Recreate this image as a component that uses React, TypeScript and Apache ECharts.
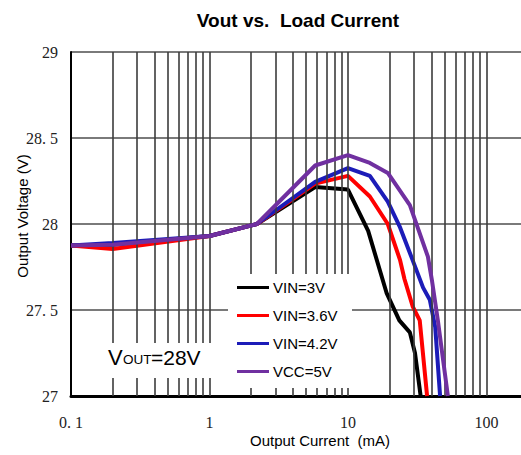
import React, { useEffect, useRef } from 'react';
import * as echarts from 'echarts';

const chartTitle = 'Vout vs.  Load Current';
const xAxisName = 'Output Current  (mA)';
const yAxisName = 'Output Voltage (V)';
const seriesNames = ['VIN=3V', 'VIN=3.6V', 'VIN=4.2V', 'VCC=5V'];
const seriesColors = ['#000000', '#ff0000', '#1c1cb8', '#7030a0'];

const xTickValues = [0.1, 1, 10, 100];
const xTickLabels = ['0. 1', '1', '10', '100'];
const yTickValues = [27, 27.5, 28, 28.5, 29];
const yTickLabels = ['27', '27. 5', '28', '28. 5', '29'];
const xGridLines = [
  0.2, 0.3, 0.4, 0.5, 0.6, 0.7, 0.8, 0.9, 1,
  2, 3, 4, 5, 6, 7, 8, 9, 10,
  20, 30, 40, 50, 60, 70, 80, 90, 100,
];

// [load current mA, output voltage V]
const vin3V: [number, number][] = [
  [0.1, 27.875], [0.2, 27.88], [1, 27.93], [2.2, 28.0], [5.8, 28.215], [10, 28.2],
  [14, 27.96], [19, 27.6], [23.5, 27.44], [28, 27.37], [30.5, 27.25], [33.5, 27.0],
];
const vin36V: [number, number][] = [
  [0.1, 27.875], [0.2, 27.855], [1, 27.93], [2.2, 28.0], [5.8, 28.235], [10, 28.28],
  [14.4, 28.16], [19.4, 28.0], [23.8, 27.79], [25.6, 27.68], [29.4, 27.52], [33, 27.44], [37.3, 27.0],
];
const vin42V: [number, number][] = [
  [0.1, 27.875], [0.2, 27.89], [1, 27.93], [2.2, 28.0], [5.8, 28.245], [10, 28.325],
  [14.4, 28.28], [19.4, 28.13], [23.8, 27.98], [29, 27.8], [34.9, 27.63], [39, 27.56],
  [42.7, 27.4], [46.3, 27.0],
];
const vcc5V: [number, number][] = [
  [0.1, 27.875], [0.2, 27.88], [1, 27.93], [2.2, 28.0], [5.8, 28.34], [10, 28.4],
  [14.4, 28.355], [19.4, 28.297], [28, 28.11], [37.8, 27.81], [40.4, 27.674],
  [44.6, 27.44], [52.7, 27.0],
];
const seriesData = [vin3V, vin36V, vin42V, vcc5V];

function labelFor(values: number[], labels: string[], v: number): string {
  for (let i = 0; i < values.length; i++) {
    if (Math.abs(values[i] - v) < 1e-6 * Math.max(1, Math.abs(v))) return labels[i];
  }
  return '';
}

export default function App() {
  const ref = useRef<HTMLDivElement>(null);
  useEffect(() => {
    if (!ref.current) return;
    const chart = echarts.init(ref.current, undefined, { renderer: 'svg' });
    const option: any = {
      animation: false,
      backgroundColor: '#ffffff',
      title: {
        text: chartTitle,
        left: 293,
        top: 6,
        textAlign: 'center',
        textStyle: { fontFamily: 'Liberation Sans', fontSize: 19, fontWeight: 'bold', color: '#000' },
      },
      grid: { left: 71, top: 52, right: 0, bottom: 59 },
      xAxis: {
        type: 'log',
        logBase: 10,
        min: 0.1,
        max: 177.8,
        axisLine: { show: true, lineStyle: { color: '#000', width: 3 } },
        axisTick: { show: false },
        splitLine: { show: false },
        axisLabel: {
          margin: 18,
          fontFamily: 'Liberation Serif',
          fontSize: 16,
          color: '#222',
          showMaxLabel: false,
          formatter: (v: number) => labelFor(xTickValues, xTickLabels, v),
        },
      },
      yAxis: {
        type: 'value',
        min: 27,
        max: 29,
        interval: 0.5,
        axisLine: { show: true, lineStyle: { color: '#000', width: 2 } },
        axisTick: { show: false },
        splitLine: { show: true, lineStyle: { color: '#7a7a7a', width: 2 } },
        axisLabel: {
          margin: 13,
          fontFamily: 'Liberation Serif',
          fontSize: 16,
          color: '#222',
          formatter: (v: number) => labelFor(yTickValues, yTickLabels, v),
        },
      },
      legend: {
        data: seriesNames,
        orient: 'vertical',
        left: 228,
        top: 274,
        z: 60,
        padding: [6, 12, 7, 9],
        icon: 'rect',
        itemWidth: 32,
        itemHeight: 3,
        itemGap: 13,
        textStyle: { fontFamily: 'Liberation Sans', fontSize: 15, color: '#000', padding: [0, 0, 0, -1] },
      },
      series: [
        {
          name: 'grid',
          type: 'line',
          data: [],
          silent: true,
          z: 1,
          markLine: {
            silent: true,
            symbol: ['none', 'none'],
            label: { show: false },
            lineStyle: { color: '#3c3c3c', width: 1.6, type: 'solid' },
            data: xGridLines.map((x) => ({ xAxis: x })),
          },
        },
        ...seriesNames.map((name, i) => ({
          name,
          type: 'line',
          data: seriesData[i],
          symbol: 'none',
          z: 2 + i,
          color: seriesColors[i],
          lineStyle: { color: seriesColors[i], width: 4 },
        })),
      ],
      graphic: [
        {
          type: 'text',
          x: 22,
          y: 216,
          rotation: Math.PI / 2,
          style: {
            text: yAxisName,
            fontFamily: 'Liberation Sans',
            fontSize: 15,
            fill: '#000',
            textAlign: 'center',
            textVerticalAlign: 'middle',
          },
        },
        {
          type: 'text',
          x: 320,
          y: 440,
          style: {
            text: xAxisName,
            fontFamily: 'Liberation Sans',
            fontSize: 15,
            fill: '#000',
            textAlign: 'center',
            textVerticalAlign: 'middle',
          },
        },
        { type: 'rect', z: 50, shape: { x: 228, y: 274, width: 124, height: 114 }, style: { fill: '#ffffff' } },
        {
          type: 'group',
          z: 100,
          children: [
            { type: 'rect', z: 100, shape: { x: 100, y: 343, width: 115, height: 35 }, style: { fill: '#ffffff' } },
            {
              type: 'text', z: 101, x: 108, y: 368,
              style: { text: 'V', fontFamily: 'Liberation Sans', fontSize: 22, fill: '#000', textVerticalAlign: 'bottom' },
            },
            {
              type: 'text', z: 101, x: 123, y: 366,
              style: { text: 'OUT', fontFamily: 'Liberation Sans', fontSize: 13.5, fill: '#000', textVerticalAlign: 'bottom' },
            },
            {
              type: 'text', z: 101, x: 151, y: 368,
              style: { text: '=28V', fontFamily: 'Liberation Sans', fontSize: 21, fill: '#000', textVerticalAlign: 'bottom' },
            },
          ],
        },
      ],
    };
    chart.setOption(option);
    return () => chart.dispose();
  }, []);
  return (
    <div
      ref={ref}
      style={{ position: 'fixed', left: 0, top: 0, width: 521, height: 455, background: '#fff' }}
    />
  );
}
